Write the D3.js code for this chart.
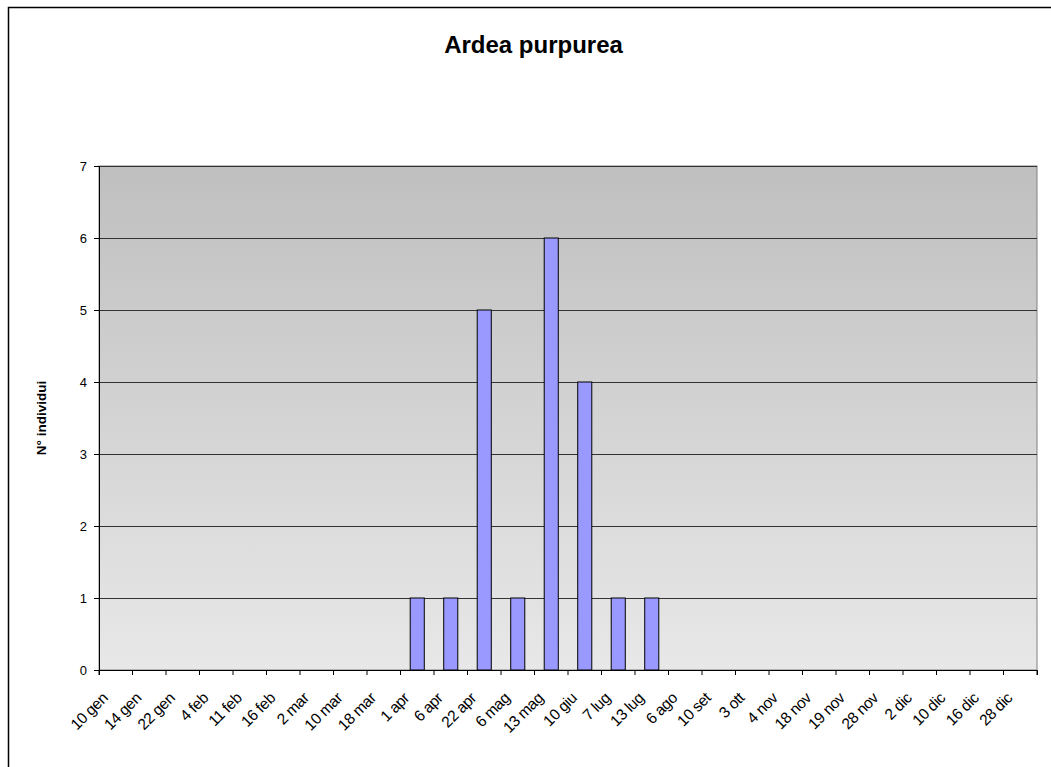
<!DOCTYPE html>
<html><head><meta charset="utf-8">
<script src="https://cdn.jsdelivr.net/npm/d3@7"></script>
<style>body{margin:0;background:#fff;} svg{display:block;font-family:Arial,"Liberation Sans",sans-serif;}</style>
</head><body>
<svg id="c" width="1051" height="767"></svg>
<script>
const categories = ["10 gen","14 gen","22 gen","4 feb","11 feb","16 feb","2 mar","10 mar","18 mar","1 apr","6 apr","22 apr","6 mag","13 mag","10 giu","7 lug","13 lug","6 ago","10 set","3 ott","4 nov","18 nov","19 nov","28 nov","2 dic","10 dic","16 dic","28 dic"];
const values = [0,0,0,0,0,0,0,0,0,1,1,5,1,6,4,1,1,0,0,0,0,0,0,0,0,0,0,0];
const yTicks = [0,1,2,3,4,5,6,7];
const title = "Ardea purpurea";
const yLabel = "N° individui";

const svg = d3.select("#c");
const L = 99, R = 1037, T = 166, B = 670;
const FF = "Arial, 'Liberation Sans', sans-serif";

// outer border
svg.append("rect").attr("x",8.5).attr("y",7.5).attr("width",1060).attr("height",800)
  .attr("fill","none").attr("stroke","#000").attr("stroke-width",1.5);

const defs = svg.append("defs");
const g = defs.append("linearGradient").attr("id","bg").attr("x1",0).attr("y1",0).attr("x2",0).attr("y2",1);
g.append("stop").attr("offset","0%").attr("stop-color","#bfbfbf");
g.append("stop").attr("offset","100%").attr("stop-color","#e8e8e8");

const x = d3.scaleBand().domain(categories).range([L,R]).paddingInner(0.58).paddingOuter(0.29);
const xb = d3.scaleBand().domain(categories).range([L,R]);
const y = d3.scaleLinear().domain([0,7]).range([B,T]);

svg.append("rect").attr("x",L).attr("y",T).attr("width",R-L).attr("height",B-T)
  .attr("fill","url(#bg)").attr("stroke","#808080").attr("stroke-width",1);

// gridlines
svg.append("g").selectAll("line").data(yTicks.filter(d=>d>0)).join("line")
  .attr("x1",L).attr("x2",R).attr("y1",d=>y(d)+0.5).attr("y2",d=>y(d)+0.5)
  .attr("stroke","#333").attr("stroke-width",1);

// bars
svg.append("g").selectAll("rect").data(categories.map((c,i)=>({c,v:values[i]})).filter(d=>d.v>0)).join("rect")
  .attr("x",d=>x(d.c)).attr("width",x.bandwidth())
  .attr("y",d=>y(d.v)).attr("height",d=>y(0)-y(d.v))
  .attr("fill","#9999ff").attr("stroke","#000").attr("stroke-width",1);

// y axis
const ya = svg.append("g").attr("transform",`translate(${L},0)`)
  .call(d3.axisLeft(y).tickValues(yTicks).tickFormat(d3.format("d")).tickSize(5).tickPadding(7));
ya.attr("font-size",null);
ya.select(".domain").attr("stroke","#000");
ya.selectAll("line").attr("stroke","#000");
ya.selectAll("text").style("font-size","13px").attr("fill","#000").attr("font-family",FF);

// x axis
const xa = svg.append("g").attr("transform",`translate(0,${B})`)
  .call(d3.axisBottom(xb).tickSize(5).tickFormat(d=>d));
xa.attr("font-size",null);
xa.select(".domain").attr("stroke","#000");
xa.selectAll(".tick line").attr("stroke","#000").attr("transform",`translate(${-xb.bandwidth()/2},0)`);
xa.selectAll(".tick text").style("font-size","15.5px").attr("fill","#000")
  .attr("font-family",FF).attr("letter-spacing","-0.4")
  .attr("text-anchor","end").attr("dy",null).attr("y",null)
  .attr("transform","translate(-7,29) rotate(-45)");
// last tick at right end
xa.append("line").attr("x1",R).attr("x2",R).attr("y1",0).attr("y2",5).attr("stroke","#000");

// title
svg.append("text").attr("x",533.5).attr("y",53).attr("text-anchor","middle")
  .attr("font-size",24).attr("font-weight","bold").attr("font-family",FF).text(title);
// y label
svg.append("text").attr("transform",`translate(46,${(T+B)/2}) rotate(-90)`)
  .attr("text-anchor","middle").attr("font-size",13.5).attr("font-weight","bold").attr("font-family",FF).text(yLabel);
</script>
</body></html>
